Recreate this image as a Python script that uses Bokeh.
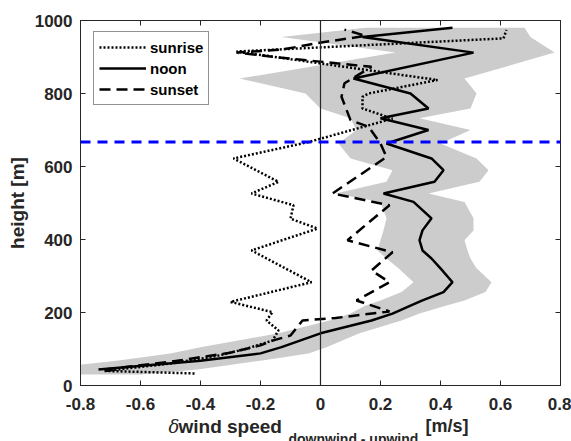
from bokeh.plotting import figure
from bokeh.layouts import column
from bokeh.models import (Range1d, FixedTicker, LinearAxis, Span,
                          Legend, LegendItem)
from bokeh.core.properties import value
from bokeh.embed import file_html
from bokeh.resources import INLINE

# ---------------- data ----------------
x_ticks = [-0.8, -0.6, -0.4, -0.2, 0, 0.2, 0.4, 0.6, 0.8]
x_tick_labels = ["-0.8", "-0.6", "-0.4", "-0.2", "0", "0.2", "0.4", "0.6", "0.8"]
y_ticks = [0, 200, 400, 600, 800, 1000]
y_tick_labels = ["0", "200", "400", "600", "800", "1000"]
boundary_height = 667

noon_h = [44, 68, 88, 105, 143, 178, 197, 219, 233, 256, 283, 321, 348, 370, 398,
          425, 458, 503, 526, 558, 590, 622, 663, 700, 732, 759, 800, 841, 912, 955, 980]
noon_x = [-0.74, -0.40, -0.20, -0.13, 0.00, 0.17, 0.24, 0.30, 0.34, 0.41, 0.44, 0.40,
          0.37, 0.34, 0.33, 0.34, 0.37, 0.31, 0.21, 0.38, 0.41, 0.37, 0.22, 0.36, 0.20,
          0.36, 0.30, 0.11, 0.51, 0.14, 0.44]

band_h = [30, 44, 68, 88, 105, 143, 178, 197, 219, 233, 256, 283, 321, 348, 370, 398,
          425, 458, 503, 526, 558, 590, 622, 663, 700, 732, 759, 800, 841, 912, 955, 980]
band_lo = [-1.00, -0.95, -0.68, -0.50, -0.40, -0.14, 0.03, 0.10, 0.15, 0.20, 0.27, 0.31,
           0.26, 0.22, 0.19, 0.20, 0.21, 0.22, 0.20, 0.05, 0.22, 0.24, 0.10, 0.06, 0.12,
           0.10, 0.00, -0.05, -0.27, 0.25, -0.13, 0.15]
band_hi = [-0.60, -0.41, -0.20, -0.04, 0.02, 0.13, 0.27, 0.33, 0.42, 0.48, 0.55, 0.57,
           0.52, 0.50, 0.49, 0.48, 0.51, 0.51, 0.48, 0.36, 0.53, 0.56, 0.52, 0.40, 0.50,
           0.33, 0.50, 0.52, 0.48, 0.78, 0.70, 0.68]

sunrise_h = [33, 40, 60, 80, 100, 123, 151, 178, 201, 229, 283, 370, 430, 457, 494, 526,
             558, 622, 667, 731, 759, 791, 800, 837, 915, 951, 974]
sunrise_x = [-0.42, -0.72, -0.50, -0.35, -0.25, -0.16, -0.14, -0.18, -0.16, -0.30, -0.03,
             -0.23, -0.01, -0.10, -0.09, -0.23, -0.14, -0.29, -0.04, 0.24, 0.14, 0.14,
             0.16, 0.39, -0.28, 0.61, 0.62]

sunset_h = [44, 65, 90, 110, 123, 137, 178, 185, 203, 233, 283, 315, 365, 398, 494, 526,
            626, 663, 709, 727, 791, 828, 873, 888, 899, 912, 920, 938, 958, 975]
sunset_x = [-0.72, -0.50, -0.30, -0.20, -0.16, -0.10, -0.06, 0.05, 0.23, 0.12, 0.23, 0.17,
            0.24, 0.09, 0.23, 0.04, 0.22, 0.20, 0.16, 0.10, 0.07, 0.08, 0.17, -0.01, -0.14,
            -0.28, -0.13, -0.01, 0.15, 0.08]

# x-axis title pieces
xlabel_symbol = "δ"
xlabel_main = "wind speed"
xlabel_sub = "downwind - upwind"
xlabel_unit = "[m/s]"

# ---------------- main figure ----------------
FONT = "Liberation Sans"
AX = "#262626"
W = 571
H_MAIN, H_LAB = 418, 23
B_LEFT, B_RIGHT = 80, 11

p = figure(width=W, height=H_MAIN, x_range=Range1d(-0.8, 0.8), y_range=Range1d(0, 1000),
           output_backend="svg", toolbar_location=None,
           min_border_left=B_LEFT, min_border_right=B_RIGHT, min_border_top=20,
           min_border_bottom=33)
p.grid.visible = False
p.outline_line_color = AX
p.outline_line_width = 1
p.background_fill_color = "white"
p.border_fill_color = "white"

band = p.harea(y=band_h, x1=band_lo, x2=band_hi, fill_color="#cccccc")

p.add_layout(Span(location=0, dimension="height", line_color=AX, line_width=1.2))

r_sunrise = p.line(sunrise_x, sunrise_h, line_color="black", line_width=2.5, line_dash="2 2")
r_noon = p.line(noon_x, noon_h, line_color="black", line_width=2.5)
r_sunset = p.line(sunset_x, sunset_h, line_color="black", line_width=2.5, line_dash="11 6")

p.add_layout(Span(location=boundary_height, dimension="width", line_color="#0000ff",
                  line_width=3, line_dash="10 7", level="overlay"))

def style_axis(ax, show_labels=True, standoff=8):
    ax.axis_line_color = AX
    ax.major_tick_line_color = AX
    ax.major_tick_in = 5
    ax.major_tick_out = 0
    ax.minor_tick_line_color = None
    ax.major_label_text_font = FONT
    ax.major_label_text_font_style = "bold"
    ax.major_label_text_font_size = "17px" if show_labels else "0px"
    ax.major_label_text_color = "#262626"
    ax.major_label_standoff = standoff if show_labels else 0

p.xaxis.ticker = FixedTicker(ticks=x_ticks)
p.yaxis.ticker = FixedTicker(ticks=y_ticks)
p.xaxis.major_label_overrides = {t: s for t, s in zip(x_ticks, x_tick_labels)}
p.yaxis.major_label_overrides = {t: s for t, s in zip(y_ticks, y_tick_labels)}
style_axis(p.xaxis[0], standoff=12)
style_axis(p.yaxis[0], standoff=8)

p.yaxis.axis_label = "height [m]"
p.yaxis.axis_label_text_font = FONT
p.yaxis.axis_label_text_font_style = "bold"
p.yaxis.axis_label_text_font_size = "19px"
p.yaxis.axis_label_text_color = "#262626"
p.yaxis.axis_label_standoff = 4

top_ax = LinearAxis(ticker=FixedTicker(ticks=x_ticks))
right_ax = LinearAxis(ticker=FixedTicker(ticks=y_ticks))
style_axis(top_ax, show_labels=False)
style_axis(right_ax, show_labels=False)
p.add_layout(top_ax, "above")
p.add_layout(right_ax, "right")

legend = Legend(items=[LegendItem(label="sunrise", renderers=[r_sunrise]),
                       LegendItem(label="noon", renderers=[r_noon]),
                       LegendItem(label="sunset", renderers=[r_sunset])],
                location=(13, 280))
legend.label_text_font = FONT
legend.label_text_font_style = "bold"
legend.label_text_font_size = "15px"
legend.label_text_color = "black"
legend.border_line_color = AX
legend.border_line_width = 1
legend.background_fill_color = "white"
legend.background_fill_alpha = 1
legend.glyph_width = 47
legend.glyph_height = 20
legend.label_height = 20
legend.label_standoff = 4
legend.spacing = 1
legend.padding = 5
legend.margin = 0
p.add_layout(legend, "center")

# ---------------- x-axis title strip ----------------
q = figure(width=W, height=H_LAB, x_range=Range1d(B_LEFT, W - B_RIGHT),
           y_range=Range1d(0, H_LAB),
           output_backend="svg", toolbar_location=None, x_axis_type=None, y_axis_type=None,
           min_border_left=B_LEFT, min_border_right=B_RIGHT, min_border_top=0,
           min_border_bottom=0)
q.grid.visible = False
q.outline_line_color = None
q.background_fill_color = "white"
q.border_fill_color = "white"

q.text(x=[168], y=[15], text=[xlabel_symbol], text_font=value("DejaVu Serif"),
       text_font_style="italic", text_font_size="18px", text_color="#262626",
       text_baseline="alphabetic", text_align="left")
q.text(x=[178], y=[15], text=[xlabel_main], text_font=value(FONT),
       text_font_style="bold", text_font_size="19px", text_color="#262626",
       text_baseline="alphabetic", text_align="left")
q.text(x=[288], y=[3], text=[xlabel_sub], text_font=value(FONT),
       text_font_style="bold", text_font_size="14px", text_color="#262626",
       text_baseline="alphabetic", text_align="left")
q.text(x=[425], y=[16], text=[xlabel_unit], text_font=value(FONT),
       text_font_style="bold", text_font_size="18px", text_color="#262626",
       text_baseline="alphabetic", text_align="left")

layout = column(p, q, spacing=0)
open("out.html", "w").write(file_html(layout, INLINE))
